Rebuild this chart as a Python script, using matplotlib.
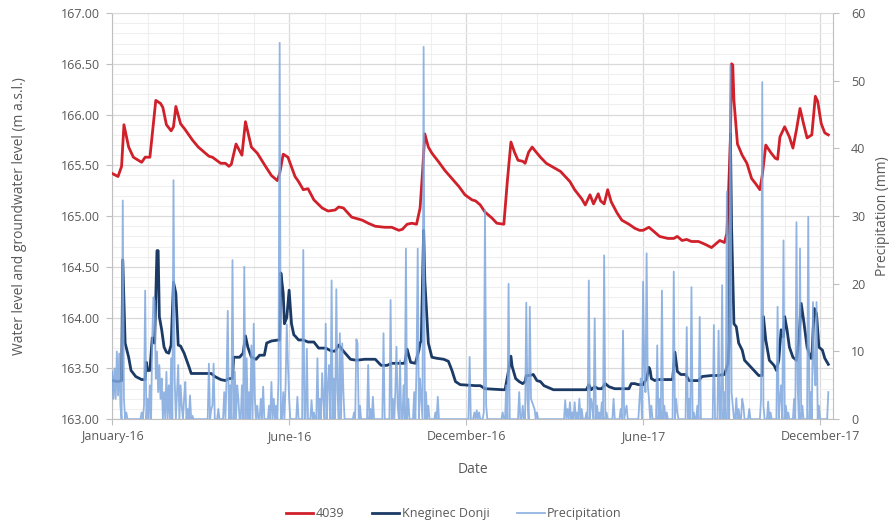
import numpy as np
import matplotlib
matplotlib.use('Agg')
import matplotlib.pyplot as plt
from matplotlib.ticker import MultipleLocator, FormatStrFormatter

plt.rcParams['font.family'] = ['Open Sans', 'DejaVu Sans']

# x axis = day index from the first sample (January-16 = 0)
tick_pos = [0, 150, 300, 450, 600]
tick_labels = ['January-16', 'June-16', 'December-16', 'June-17', 'December-17']

# well 4039 (m a.s.l.)
day_4039 = [0, 5, 8, 10, 14, 18, 25, 28, 32, 37, 41, 43, 46, 50, 52, 54, 58, 62, 68, 73,
            82, 85, 92, 96, 99, 101, 105, 110, 113, 118, 123, 130, 135, 140, 142, 145, 149, 155,
            158, 162, 166, 171, 178, 183, 189, 192, 196, 203, 212, 217, 223, 231, 237, 243, 246,
            250, 254, 258, 261, 263, 265, 268, 271, 277, 282, 288, 294, 299, 305,
            308, 312, 316, 322, 326, 332, 335, 338, 341, 344, 348, 350, 353, 356, 358, 363, 368,
            374, 380, 384, 388, 392, 398, 401, 405, 408, 412, 414, 417, 420, 423, 428, 432, 438,
            443, 447, 450, 455, 460, 464, 471, 476, 479, 483, 487, 491, 497, 503, 508, 511, 515,
            519, 521, 522, 524, 525, 526, 527, 530, 534, 538, 542, 546, 549, 551, 554, 558, 562,
            564, 566, 570, 574, 577, 580, 583, 586, 589, 593, 596, 598, 601, 604, 607]
lvl_4039 = [165.42, 165.39, 165.49, 165.90, 165.68, 165.58, 165.53, 165.58, 165.58, 166.14,
            166.11, 166.07, 165.90, 165.84, 165.88, 166.08, 165.91, 165.85, 165.75, 165.68,
            165.59, 165.58, 165.52, 165.52, 165.49, 165.51, 165.71, 165.60, 165.93, 165.68,
            165.62, 165.49, 165.40, 165.35, 165.42, 165.61, 165.58, 165.39,
            165.34, 165.26, 165.27, 165.16, 165.08, 165.05, 165.06, 165.09, 165.08, 164.99,
            164.96, 164.93, 164.90, 164.89, 164.89, 164.86, 164.87,
            164.92, 164.93, 164.92, 165.08, 165.42, 165.81, 165.68, 165.62, 165.53, 165.45,
            165.37, 165.29, 165.21, 165.16,
            165.15, 165.11, 165.04, 164.98, 164.93, 164.92, 165.35, 165.73, 165.63, 165.55,
            165.54, 165.52, 165.63, 165.68, 165.65, 165.58, 165.52,
            165.48, 165.44, 165.39, 165.34, 165.26, 165.17, 165.11, 165.21, 165.12, 165.22,
            165.15, 165.12, 165.26, 165.14, 165.03, 164.96, 164.92,
            164.88, 164.86, 164.86, 164.89, 164.84, 164.80, 164.78, 164.78, 164.80, 164.76,
            164.77, 164.75, 164.75, 164.72, 164.69, 164.72, 164.76,
            164.74, 164.83, 165.09, 165.75, 166.50, 166.49, 166.14, 165.71, 165.60, 165.52,
            165.37, 165.31, 165.26, 165.40, 165.70, 165.63, 165.57,
            165.56, 165.78, 165.88, 165.78, 165.67, 165.85, 166.06, 165.91, 165.77, 165.80,
            166.18, 166.13, 165.91, 165.82, 165.80]

# Kneginec Donji (m a.s.l.)
day_kd = [0, 5, 8, 9, 11, 14, 16, 20, 25, 28, 29, 30, 32, 34, 36, 38, 39, 40, 42, 44, 46, 48,
          50, 52, 54, 56, 58, 61, 65, 67, 79, 84, 87, 92, 96, 99, 102, 103, 108, 111, 113, 115,
          118, 122, 125, 129, 131, 135, 141, 142, 143, 145, 146, 148, 150, 152, 154, 155, 158,
          162, 166, 171, 175, 181, 186, 189, 192, 196, 202, 207, 214, 223, 228, 233, 237, 245,
          248, 250, 253, 257, 260, 261, 262, 264, 265, 268, 271, 275, 281, 285, 288, 291, 295,
          308, 312, 316, 331, 333, 336, 338, 339, 342, 345, 348, 350, 351, 354, 357, 360, 363,
          366, 370, 374, 384, 402, 404, 406, 409, 412, 415, 418, 421, 426, 432, 438, 440, 443,
          446, 450, 453, 455, 456, 457, 460, 462, 469, 475, 477, 479, 482, 486, 489, 497, 500,
          508, 513, 519, 522, 523, 524, 525, 527, 529, 531, 534, 536, 540, 544, 548, 551, 552,
          554, 557, 561, 563, 565, 567, 569, 570, 572, 574, 577, 580, 582, 584, 586, 589, 592,
          593, 595, 597, 599, 602, 604, 607]
lvl_kd = [163.38, 163.37, 163.38, 164.57, 163.75, 163.61, 163.48, 163.42, 163.39, 163.39,
          163.56, 163.48, 163.48, 163.80, 163.75, 164.66, 164.66, 164.01, 163.88, 163.71,
          163.66, 163.65, 163.73, 164.35, 164.24, 163.73, 163.72, 163.65, 163.52, 163.45,
          163.45, 163.45, 163.42, 163.39, 163.38, 163.40, 163.40, 163.61, 163.61, 163.65,
          163.82, 163.71, 163.61, 163.59, 163.63, 163.63, 163.75, 163.77, 163.78, 163.78,
          164.44, 164.24, 163.94, 164.00, 164.27, 163.94, 163.83, 163.82, 163.78,
          163.78, 163.76, 163.76, 163.70, 163.70, 163.67, 163.67, 163.73, 163.67, 163.59,
          163.58, 163.59, 163.59, 163.53, 163.53, 163.55, 163.55,
          163.55, 163.69, 163.56, 163.55, 163.68, 163.75, 163.77, 164.86, 164.37, 163.75,
          163.61, 163.60, 163.59, 163.57, 163.48, 163.37, 163.34,
          163.33, 163.33, 163.30, 163.29, 163.29, 163.48, 163.62, 163.52, 163.40, 163.37,
          163.35, 163.37, 163.43, 163.43, 163.44, 163.38, 163.37,
          163.33, 163.31, 163.29, 163.29, 163.29, 163.34, 163.29, 163.32, 163.30, 163.30,
          163.35, 163.32, 163.30, 163.30, 163.30, 163.35, 163.35,
          163.34, 163.34, 163.40, 163.51, 163.48, 163.40, 163.38, 163.39, 163.39, 163.39,
          163.66, 163.47, 163.44, 163.44, 163.38, 163.38, 163.42,
          163.43, 163.43, 163.44, 163.55, 163.78, 165.81, 164.89, 163.94, 163.91, 163.75,
          163.68, 163.58, 163.53, 163.48, 163.43, 163.43, 164.01,
          163.78, 163.58, 163.53, 163.48, 163.58, 163.88, 163.81, 164.01, 163.88, 163.71,
          163.61, 163.58, 163.78, 164.14, 163.98, 163.71, 163.60,
          163.60, 164.09, 164.04, 163.71, 163.68, 163.60, 163.54]

# daily precipitation (mm), only rainy days listed
rain_day = [0, 1, 2, 3, 4, 5, 6, 7, 9, 10, 12, 25, 27, 28, 30, 32, 34, 35, 36, 37, 38, 39,
            40, 41, 42, 44, 46, 48, 50, 52, 53, 55, 56, 58, 59, 61, 62, 64, 66, 68,
            82, 84, 85, 86, 90, 95, 97, 98, 100, 102, 104, 106, 107, 110, 112, 114, 116,
            118, 120, 121, 123, 126, 128, 133, 135, 137, 139, 141, 142, 145, 147, 148, 149,
            150, 157, 162, 165, 169, 171, 174, 176, 178, 179, 181, 183, 184, 186, 188, 190,
            191, 193, 195, 196, 205, 207, 208, 210, 217, 219, 221, 230, 236, 238, 240, 241,
            242, 244, 247, 249, 251, 256, 258, 259, 261, 262, 264, 266, 268, 274, 276,
            303, 307, 309, 311, 315, 316, 317, 331, 334, 336, 345, 348, 351, 352, 354, 355,
            356, 357, 358, 360, 384, 386, 388, 390, 392, 394, 396, 398, 402, 404, 406, 407,
            409, 411, 413, 415, 417, 419, 425, 431, 433, 435, 436, 447, 448, 450, 451, 452,
            453, 454, 455, 457, 462, 464, 466, 468, 470, 476, 478, 479, 487, 489, 491, 493,
            496, 498, 510, 514, 517, 519, 521, 524, 525, 526, 529, 531, 534, 535, 540, 550,
            551, 552, 556, 558, 564, 566, 567, 569, 571, 573, 578, 580, 581, 583, 585, 590,
            592, 594, 595, 596, 597, 599, 607]
rain_mm = [7, 3, 7.5, 3, 10, 3.5, 9.7, 2, 32.3, 3, 1, 1, 2, 19, 3, 5, 12, 18, 17.5, 6, 10, 4,
           8, 3, 6, 4, 7, 5, 9, 35.3, 6, 4, 8, 5, 2, 3, 5.5, 1.5, 3.5, 0.5,
           8.2, 1.5, 2, 8.2, 1.5, 4, 6, 16, 5, 23.5, 7, 5, 3, 5, 22.5, 9, 4,
           10.9, 14.1, 3, 2, 3, 4.8, 2, 5.5, 3, 2, 6, 55.6, 4, 5, 14, 8.2,
           3, 3.3, 25, 10.4, 2.8, 1, 9, 3, 6.8, 3, 14.1, 5, 8, 20.5, 6, 19.2,
           4, 12.7, 11.2, 4, 1, 11.8, 11.2, 2, 8, 1.5, 3.3, 12.7, 17.6, 3, 4, 10.7,
           2, 8.7, 5, 25.2, 3, 4, 8, 25.2, 6, 3, 55, 4, 2, 1, 3.3,
           9.2, 1, 1.3, 1, 1, 30.9, 2, 1, 5, 20, 4, 2, 17.2, 3, 16.6, 3,
           2.5, 2, 1.5, 1, 2.8, 1.5, 2.5, 1, 2.5, 1, 3, 1.5, 1, 20.5, 3, 2,
           14.9, 2, 1, 2.5, 24.2, 1, 3, 1.5, 13.1, 1, 2, 3, 6, 20.3, 8, 4,
           24.5, 5, 3, 2, 10.9, 3, 19, 2, 1, 21.8, 3, 1, 13.6, 3, 19.5, 1,
           2, 15.1, 13.9, 13.1, 19.8, 4, 33.6, 52.3, 4, 2, 3.1, 1.5, 3, 2, 1.5, 3,
           49.8, 2, 2.6, 1, 16.6, 3, 5, 26.4, 2, 1, 3, 29.1, 5, 25.2, 2, 29.9,
           4, 17.3, 8, 5, 17.3, 2, 4]

rain = np.zeros(max(rain_day) + 1)
rain[rain_day] = rain_mm

grey_txt = '#595959'
fig, ax = plt.subplots(figsize=(8.9, 5.22), dpi=100)
fig.subplots_adjust(left=0.126, right=0.936, top=0.975, bottom=0.197)

l1, = ax.plot(day_4039, lvl_4039, color='#D0202A', lw=2.0, label='4039', zorder=3)
l2, = ax.plot(day_kd, lvl_kd, color='#1B3A66', lw=2.0, label='Kneginec Donji', zorder=3)

ax.set_ylim(163, 167)
ax.set_xlim(0, 611)
ax.yaxis.set_major_locator(MultipleLocator(0.5))
ax.yaxis.set_minor_locator(MultipleLocator(0.1))
ax.yaxis.set_major_formatter(FormatStrFormatter('%.2f'))
ax.set_xticks(tick_pos)
ax.set_xticklabels(tick_labels)
ax.xaxis.set_minor_locator(MultipleLocator(30))
ax.grid(which='major', color='#D9D9D9', lw=0.9)
ax.grid(which='minor', color='#EFEFEF', lw=0.8)
ax.set_axisbelow(True)
ax.tick_params(which='major', length=4, color='#BFBFBF', labelsize=9, labelcolor=grey_txt)
ax.tick_params(axis='y', pad=5)
ax.tick_params(which='minor', length=0)
for s in ax.spines.values():
    s.set_color('#BFBFBF')
ax.spines['top'].set_color('#D9D9D9')

ax.set_ylabel('Water level and groundwater level (m a.s.l.)', fontsize=10, color=grey_txt, labelpad=24)
ax.set_xlabel('Date', fontsize=10, color=grey_txt, labelpad=14)

ax2 = ax.twinx()
l3, = ax2.plot(np.arange(len(rain)), rain, color='#7FA7DE', lw=1.3, alpha=0.85, label='Precipitation')
ax2.set_ylim(0, 60)
ax2.yaxis.set_major_locator(MultipleLocator(10))
ax2.tick_params(length=4, color='#BFBFBF', labelsize=9, labelcolor=grey_txt, pad=9)
for s in ax2.spines.values():
    s.set_visible(False)
ax2.set_ylabel('Precipitation (mm)', fontsize=10, color=grey_txt, labelpad=7)

fig.legend(handles=[l1, l2, l3], loc='lower center', ncol=3, frameon=False,
           bbox_to_anchor=(0.51, -0.018), fontsize=9, handlelength=2.2, handletextpad=0.2,
           columnspacing=2.2, labelcolor=grey_txt)

plt.savefig('out.png', dpi=100)
